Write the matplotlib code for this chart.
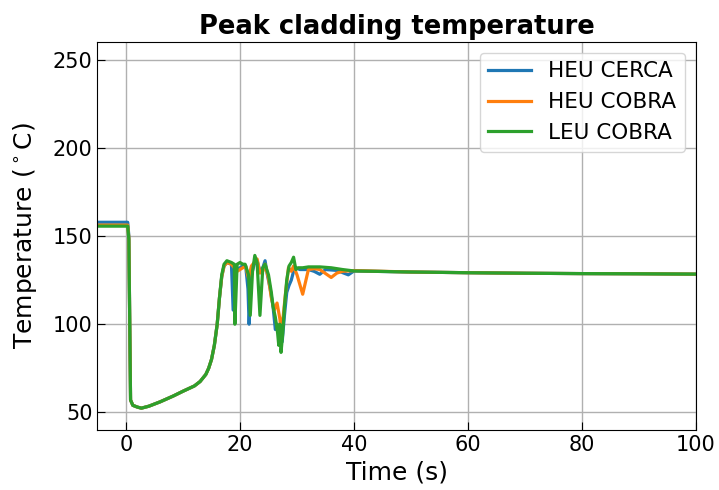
import numpy as np
import matplotlib.pyplot as plt

# shared part before the oscillations
t_start = [-5, 0.3, 0.5, 0.8, 1.2, 2.0, 2.7, 4.0, 6.0, 8.3, 10.0, 12.0, 13.0, 14.0, 14.5, 15.0,
           15.5, 16.0, 16.4, 16.8, 17.2, 17.7]
heu_cerca_start = [157.8, 157.8, 150, 57, 54, 53, 52.4, 53.5, 56, 59.3, 62.0, 65.0, 67.5, 71.5, 75, 80,
                   88, 100, 115, 127, 133, 135]
heu_cobra_start = [156.2, 156.2, 149, 57, 54, 53, 52.4, 53.5, 56, 59.3, 62.0, 65.0, 67.5, 71.5, 75, 80,
                   88, 100, 115, 127, 133, 135]
leu_cobra_start = [155.6, 155.6, 148, 57, 54, 53, 52.4, 53.5, 56, 59.3, 62.0, 65.0, 67.5, 71.5, 75, 80,
                   88, 100, 115, 128, 134, 136]

# oscillation region
t_cerca = [18.5, 18.8, 19.1, 19.5, 20, 20.5, 21.0, 21.4, 21.6, 22.0, 22.5, 23, 23.5, 24.0, 24.4, 24.8,
           25.3, 25.8, 26.2, 26.6, 27.0, 27.4, 27.8, 28.2, 28.6, 29.0, 29.4, 29.8, 30.5, 32, 33, 34, 35, 37, 39, 40]
T_cerca = [134, 108, 132, 131, 132, 133, 133, 120, 100, 128, 134, 136, 130, 132, 136, 128,
           120, 110, 97, 100, 98, 90, 105, 118, 122, 125, 130, 132, 131, 131, 130, 128.3, 131, 130.5, 128, 130.2]

t_cobra = [18.5, 19.0, 19.5, 20, 20.5, 21, 21.5, 22, 22.5, 23, 23.5, 24, 24.4, 25, 25.5, 26, 26.5,
           27.0, 27.2, 27.6, 28, 28.5, 29, 29.4, 30, 31, 32, 33, 34, 36, 37, 38, 40]
T_cobra = [134, 132, 130, 131, 132, 133, 126, 133, 135, 137, 129, 130, 134, 126, 115, 108, 112,
           103, 96, 105, 118, 132, 130, 133, 128, 117, 131, 131.5, 131, 126.5, 129, 130, 130.4]

t_leu = [18.5, 19.0, 19.1, 19.5, 20.0, 20.5, 20.9, 21.5, 21.8, 22.2, 22.6, 23.0, 23.5, 24.0, 24.4, 25.0,
         25.5, 25.8, 26.2, 26.6, 26.8, 27.0, 27.2, 27.5, 27.8, 28.2, 28.6, 29.0, 29.4, 29.8, 30.2, 31,
         32, 34, 36, 38, 40]
T_leu = [135, 134, 100, 134, 135, 134, 134, 128, 105, 130, 139, 135, 105, 132, 134, 128,
         118, 110, 104, 95, 88, 100, 84, 95, 110, 125, 133, 135, 138, 131, 132, 132,
         132.5, 132.5, 132, 131, 130.2]

# slow tail, all three on top of each other
t_tail = [50, 60, 70, 80, 90, 100]
T_tail = [129.6, 129.2, 128.9, 128.7, 128.6, 128.4]

fig = plt.figure(figsize=(7.19, 4.9), dpi=100)
ax = fig.add_axes([0.1356, 0.1224, 0.8324, 0.7918])

ax.plot(t_start + t_cerca + t_tail, heu_cerca_start + T_cerca + T_tail, color='#1f77b4', lw=2.3, label='HEU CERCA')
ax.plot(t_start + t_cobra + t_tail, heu_cobra_start + T_cobra + T_tail, color='#ff7f0e', lw=2.3, label='HEU COBRA')
ax.plot(t_start + t_leu + t_tail, leu_cobra_start + T_leu + T_tail, color='#2ca02c', lw=2.3, label='LEU COBRA')

ax.set_xlim(-5, 100)
ax.set_ylim(40, 260)
ax.set_yticks([50, 100, 150, 200, 250])
ax.grid(True, color='#b0b0b0', lw=1)
ax.tick_params(direction='in', labelsize=15, length=6)
ax.set_xlabel('Time (s)', fontsize=18)
ax.set_ylabel(r'Temperature ($^\circ$C)', fontsize=18, labelpad=10)
ax.set_title('Peak cladding temperature', fontsize=18.5, fontweight='bold')
ax.legend(loc='upper right', fontsize=15.5)

fig.savefig('out.png', dpi=100)
